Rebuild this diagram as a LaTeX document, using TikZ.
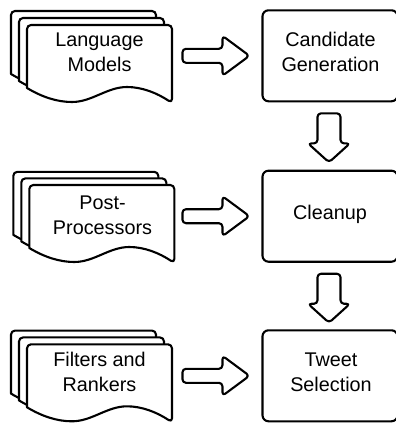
\documentclass[tikz,border=0pt]{standalone}
\usepackage{fontspec}
\setmainfont{Liberation Sans}
\usetikzlibrary{calc}
\tikzset{
  line/.style={line width=2.1pt, draw=black, fill=white, line join=round},
  box/.style={line, rounded corners=6pt, minimum width=135pt, minimum height=91pt, inner sep=0pt},
  lbl/.style={align=center, font=\fontsize{19.8}{25}\selectfont, inner sep=0pt, text=black},
  onedoc/.pic={\draw[line] (0,63) [rounded corners=4pt] -- (0,0) -- (145,0) -- (145,78) [sharp corners]
      .. controls (130,68) and (115,62) .. (100,62)
      .. controls (80,62) and (65,77) .. (45,77)
      .. controls (30,77) and (15,72) .. (0,63) -- cycle;},
  multidoc/.pic={\pic at (-16,-14) {onedoc}; \pic at (-8,-7) {onedoc}; \pic at (0,0) {onedoc};},
  harrow/.pic={\draw[line, rounded corners=3.5pt] (20,-7) -- (40,-7) -- (40,-20) -- (67,0) -- (40,20) -- (40,7) -- (0,7) -- (0,-7) -- cycle;},
  varrow/.pic={\draw[line, rounded corners=3.5pt] (11.5,15) -- (11.5,30) -- (21,30) -- (0,49) -- (-21,30) -- (-11.5,30) -- (-11.5,0) -- (11.5,0) -- cycle;}
}
\begin{document}
\begin{tikzpicture}[x=1pt,y=-1pt]
\useasboundingbox (0,0) rectangle (396,423);
\fill[white] (0,0) rectangle (396,423);

% document stacks
\pic at (27,25) {multidoc};
\pic[yscale=0.94] at (29.3,185) {multidoc};
\pic[yscale=0.98] at (27,344.3) {multidoc};
\node[lbl] (t1) at (99.5,52.5) {Language\\Models};
\node[lbl] (t2) at (102.5,214.9) {Post-\\Processors};
\node[lbl] (t3) at (99.5,372) {Filters and\\Rankers};

% process boxes
\node[box] (b1) at (330,55.8) {};
\node[box] (b2) at (330,216.2) {};
\node[box] (b3) at (330,375.8) {};
\node[lbl] (l1) at (330.5,52) {Candidate\\Generation};
\node[lbl] (l2) at (330,213.9) {Cleanup};
\node[lbl] (l3) at (331,371.9) {Tweet\\Selection};

% block arrows
\pic at ($(b1.west)+(-79,0)$) {harrow};
\pic at ($(b2.west)+(-79,0)$) {harrow};
\pic at ($(b3.west)+(-79,0)$) {harrow};
\pic at ($(b1.south)+(-1,11)$) {varrow};
\pic at ($(b2.south)+(-1,11)$) {varrow};
\end{tikzpicture}
\end{document}
